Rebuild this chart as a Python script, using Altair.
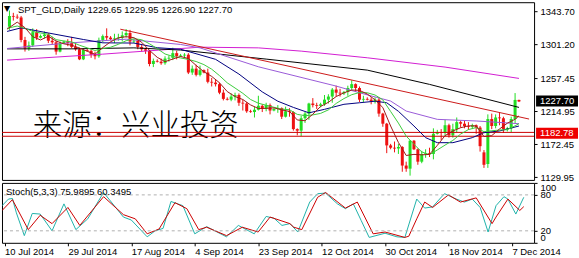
import json
import altair as alt
import pandas as pd

# ---------------- data ----------------
date_labels = ["10 Jul 2014", "29 Jul 2014", "17 Aug 2014", "4 Sep 2014", "23 Sep 2014",
               "12 Oct 2014", "30 Oct 2014", "18 Nov 2014", "7 Dec 2014"]
date_ticks = [0, 16, 32, 48, 64, 80, 96, 112, 128]
price_ticks = [1343.70, 1301.20, 1257.45, 1214.95, 1172.45, 1129.95]
stoch_ticks = [0, 20, 80, 100]

opens = [1324, 1338, 1337, 1336, 1307, 1296, 1300, 1317, 1310, 1312, 1314, 1306, 1304, 1292, 1303, 1305,
         1303, 1298, 1295, 1282, 1294, 1293, 1288, 1286, 1307, 1312, 1310, 1308, 1309, 1310, 1313, 1316,
         1305, 1306, 1298, 1295, 1293, 1276, 1280, 1279, 1277, 1283, 1284, 1290, 1286, 1287, 1288, 1265,
         1270, 1262, 1268, 1265, 1253, 1252, 1250, 1239, 1231, 1230, 1234, 1236, 1226, 1225, 1215, 1214,
         1217, 1222, 1218, 1223, 1216, 1218, 1219, 1208, 1215, 1214, 1192, 1190, 1206, 1212, 1225, 1223,
         1222, 1224, 1230, 1234, 1243, 1239, 1238, 1240, 1245, 1250, 1245, 1230, 1231, 1230, 1228, 1230,
         1212, 1199, 1171, 1168, 1167, 1169, 1145, 1141, 1177, 1166, 1150, 1160, 1161, 1160, 1186, 1188,
         1187, 1197, 1184, 1192, 1201, 1199, 1196, 1195, 1197, 1194, 1162, 1147, 1205, 1196, 1207, 1206,
         1192, 1193, 1205, 1229.65]
highs = [1345, 1342, 1340, 1338, 1311, 1305, 1322, 1321, 1314, 1318, 1316, 1311, 1306, 1305, 1306, 1308,
         1311, 1302, 1297, 1296, 1296, 1295, 1292, 1310, 1314, 1322, 1312, 1315, 1315, 1318, 1321, 1320,
         1308, 1306, 1302, 1297, 1294, 1283, 1282, 1283, 1286, 1287, 1297, 1293, 1289, 1290, 1290, 1274,
         1275, 1274, 1269, 1270, 1258, 1256, 1252, 1243, 1233, 1238, 1239, 1238, 1230, 1227, 1217, 1221,
         1235, 1224, 1226, 1225, 1219, 1223, 1220, 1221, 1219, 1215, 1193, 1209, 1214, 1226, 1232, 1226,
         1226, 1236, 1237, 1245, 1248, 1244, 1241, 1248, 1255, 1251, 1247, 1235, 1233, 1233, 1233, 1233,
         1213, 1200, 1173, 1176, 1173, 1170, 1150, 1178, 1178, 1167, 1164, 1166, 1168, 1193, 1191, 1192,
         1204, 1199, 1199, 1207, 1203, 1203, 1201, 1199, 1198, 1196, 1165, 1211, 1212, 1211, 1214, 1208,
         1195, 1208, 1238.5, 1229.95]
lows = [1320, 1332, 1334, 1304, 1292, 1293, 1298, 1307, 1309, 1309, 1303, 1301, 1288, 1291, 1302, 1299,
        1296, 1293, 1281, 1281, 1292, 1284, 1282, 1284, 1304, 1307, 1307, 1303, 1306, 1305, 1310, 1300,
        1303, 1295, 1292, 1289, 1273, 1272, 1278, 1275, 1275, 1279, 1281, 1282, 1285, 1284, 1263, 1262,
        1260, 1260, 1264, 1251, 1247, 1247, 1237, 1229, 1229, 1228, 1229, 1222, 1216, 1213, 1213, 1207,
        1216, 1214, 1215, 1211, 1215, 1213, 1205, 1207, 1208, 1190, 1184, 1183, 1200, 1204, 1220, 1218,
        1220, 1222, 1225, 1226, 1234, 1234, 1236, 1235, 1242, 1240, 1227, 1227, 1229, 1224, 1225, 1208,
        1195, 1161, 1166, 1162, 1160, 1137, 1137, 1132, 1165, 1146, 1148, 1155, 1156, 1153, 1185, 1178,
        1183, 1181, 1181, 1188, 1194, 1193, 1191, 1192, 1186, 1163, 1142, 1142, 1192, 1193, 1197, 1187,
        1189, 1188, 1199, 1226.9]
closes = [1338, 1337, 1336, 1307, 1296, 1300, 1317, 1310, 1312, 1314, 1306, 1304, 1292, 1303, 1305, 1303,
          1298, 1295, 1282, 1294, 1293, 1288, 1286, 1307, 1312, 1310, 1308, 1309, 1310, 1313, 1316, 1305,
          1306, 1298, 1295, 1293, 1276, 1280, 1279, 1277, 1283, 1284, 1290, 1286, 1287, 1288, 1265, 1270,
          1262, 1268, 1265, 1253, 1252, 1250, 1239, 1231, 1230, 1234, 1236, 1226, 1225, 1215, 1214, 1217,
          1222, 1218, 1223, 1216, 1218, 1219, 1208, 1215, 1214, 1192, 1190, 1206, 1212, 1225, 1223, 1222,
          1224, 1230, 1234, 1243, 1239, 1238, 1240, 1245, 1250, 1245, 1230, 1231, 1230, 1228, 1230, 1212,
          1199, 1171, 1168, 1167, 1169, 1145, 1141, 1177, 1166, 1150, 1160, 1161, 1160, 1186, 1188, 1187,
          1197, 1184, 1192, 1201, 1199, 1196, 1195, 1197, 1194, 1170, 1146, 1205, 1196, 1207, 1206, 1192,
          1193, 1205, 1229.65, 1227.70]

# moving-average lines, sampled (bar index, price)
ma5_i = [-0.6, 2, 4, 6, 8, 10, 12, 14, 16, 18, 20, 22, 24, 26, 28, 30, 32, 34, 36, 38, 40, 42, 44, 46, 48,
         50, 52, 54, 56, 58, 60, 62, 64, 66, 68, 70, 72, 74, 76, 78, 80, 82, 84, 86, 88, 90, 92, 94, 96,
         98, 100, 102, 104, 106, 108, 110, 112, 114, 116, 118, 120, 122, 124, 126, 128, 130, 131]
ma5_v = [1321, 1330, 1322.8, 1311.2, 1307, 1311.8, 1305.6, 1302, 1300.2, 1296.6, 1292.4, 1288.6, 1297.2,
         1304.6, 1309.8, 1311.2, 1310, 1304, 1293.6, 1284.6, 1279, 1282.4, 1285.8, 1283, 1274.2, 1266, 1260,
         1251.8, 1240.4, 1234, 1230.2, 1223.2, 1218.6, 1218.8, 1219.4, 1216.8, 1214.8, 1203.8, 1202.8,
         1211.2, 1221.2, 1226.6, 1234, 1238.8, 1242.4, 1242, 1237.2, 1229.8, 1219.8, 1196, 1174.8, 1158,
         1159.4, 1158.8, 1159.4, 1171, 1183.6, 1189.6, 1193.8, 1196.2, 1196.2, 1182.4, 1183.6, 1192.2,
         1199.6, 1204.7, 1209.1]
ma10_i = [-0.6, 2, 4, 6, 8, 10, 12, 14, 16, 18, 20, 22, 24, 26, 28, 30, 32, 34, 36, 38, 40, 42, 44, 46,
          48, 50, 52, 54, 56, 58, 60, 62, 64, 66, 68, 70, 72, 74, 76, 78, 80, 82, 84, 86, 88, 90, 92, 94,
          96, 98, 100, 102, 104, 106, 108, 110, 112, 114, 116, 118, 120, 122, 124, 126, 128, 130, 131]
ma10_v = [1322, 1325, 1322, 1318, 1316, 1314.4, 1307.4, 1305.7, 1304.5, 1300.2, 1296.8, 1293.5, 1295.9,
          1297.6, 1301.4, 1306, 1308.6, 1307.3, 1302.1, 1295.8, 1288.9, 1285.8, 1283.8, 1281.9, 1279.2,
          1275.2, 1269.3, 1261, 1251.7, 1245, 1238.2, 1230.2, 1225.4, 1222.8, 1220.2, 1217.8, 1217, 1211,
          1209.3, 1210.3, 1212.3, 1216.8, 1225.1, 1231.4, 1236.4, 1239.2, 1238.9, 1236, 1229.7, 1214.8,
          1199.8, 1183, 1172.4, 1162.6, 1159, 1165.1, 1171.4, 1177.4, 1185.6, 1191.4, 1194, 1188.7,
          1189.9, 1190.8, 1191.3, 1196.3, 1199]
navy_i = [-0.6, 3, 10, 19, 24, 32, 38, 44, 53, 59, 65, 69, 73, 77, 81, 86, 90, 94, 97, 100, 104, 107,
          110, 114, 119, 122, 126, 131]
navy_v = [1318, 1322.6, 1316, 1307.6, 1303.3, 1303, 1297, 1295, 1282, 1263, 1240, 1228, 1220, 1213,
          1217.5, 1224, 1226, 1228, 1226, 1215, 1196, 1181, 1174.5, 1174.5, 1181, 1187.4, 1189.6, 1196]
purple_i = [-0.6, 15, 30, 44, 49, 64, 84, 90, 98, 102, 110, 120, 131]
purple_v = [1296, 1303, 1308, 1301.2, 1296.8, 1272.4, 1247.5, 1238.9, 1228.2, 1215.3, 1204.6, 1202.5, 1199]
black_i = [-0.6, 16, 32, 44, 66, 92, 108, 131]
black_v = [1295.5, 1295.5, 1296.8, 1294, 1282.3, 1268.1, 1249.7, 1220]
magenta_i = [-0.6, 24, 49, 64, 75, 92, 112, 131]
magenta_v = [1281, 1288.7, 1297.7, 1296.8, 1292.6, 1284, 1272, 1257.4]
trend_i = [28.5, 133.6]
trend_v = [1320.9, 1205]
hline_v = [1187.77, 1182.78]
last_price = 1227.70

# stochastic lines, sampled (bar index, value)
k_i = [-0.6, 1, 2, 3, 5, 7, 9, 12, 15, 18, 21, 25, 30, 32, 36, 38, 40, 42, 45, 48, 51, 56, 59, 63, 66,
       68, 70, 72, 74, 77, 79, 81, 84, 86, 88, 90, 92, 96, 99, 101, 104, 106, 108, 111, 114, 116, 118,
       120, 122, 124, 126, 127, 129, 131]
k_v = [62, 73, 74, 50, 12, 49, 48, 20, 65, 22, 40, 84, 43, 38, 10, 20, 24, 69, 62, 15, 27, 10, 29, 15,
       44, 41, 29, 32, 18, 68, 82, 83, 65, 57, 65, 37, 9, 16, 10, 9, 73, 58, 60, 82, 73, 68, 73, 59, 18,
       62, 77, 73, 48, 75.99]
d_i = [-0.6, 2, 6, 9, 12, 16, 19, 25, 30, 33, 36, 39, 43, 46, 49, 51, 56, 60, 64, 67, 72, 73, 75, 79, 81,
       86, 89, 93, 96, 101, 102, 104, 106, 108, 112, 115, 119, 123, 124, 127, 130, 131]
d_v = [54, 72, 22, 46, 32, 59, 29, 77, 47, 40, 15, 23, 67, 57, 22, 26, 12, 26, 18, 43, 32, 26, 22, 76, 84,
       58, 68, 15, 18, 9, 11, 40, 68, 59, 80, 68, 75, 32, 43, 73, 54, 60.35]

title_text = "SPT_GLD,Daily 1229.65 1229.95 1226.90 1227.70"
stoch_text = "Stoch(5,3,3) 75.9895 60.3495"
watermark = "来源：兴业投资"

# ---------------- styling ----------------
FONT = "Liberation Sans"
FS = 9.5
GREEN = "#22dd22"
RED = "#ee1111"

xscale = alt.Scale(domain=[-0.63, 133.6], nice=False, zero=False)
yscale = alt.Scale(domain=[1126.48, 1355.68], nice=False, zero=False)
sscale = alt.Scale(domain=[0, 100], nice=False, zero=False)

y_axis = alt.Axis(orient="right", values=price_ticks, format=".2f", title=None, grid=False,
                  domain=False, tickSize=3, labelPadding=3, labelOverlap=False)
s_axis = alt.Axis(orient="right", values=stoch_ticks, title=None, grid=False, domain=False,
                  tickSize=3, labelPadding=3, labelFlush=True, labelOverlap=False)
label_expr = json.dumps(date_labels) + "[round(datum.value/16)]"
x_axis = alt.Axis(values=date_ticks, labelExpr=label_expr, labelAlign="left", title=None,
                  grid=False, domain=False, tickSize=3, labelPadding=1, labelOverlap=False,
                  labelFlush=False)

X = alt.X("i:Q", scale=xscale, axis=None)


def Yp(field):
    return alt.Y(field, scale=yscale, axis=y_axis)


bars = pd.DataFrame({"i": list(range(len(opens))), "o": opens, "h": highs, "l": lows, "c": closes})
up = bars[bars["c"] >= bars["o"]]
dn = bars[bars["c"] < bars["o"]]

candle_layers = []
for df, col in [(up, GREEN), (dn, RED)]:
    candle_layers.append(alt.Chart(df).mark_rule(strokeWidth=1, color=col).encode(
        x=X, y=Yp("l:Q"), y2="h:Q"))
    candle_layers.append(alt.Chart(df).mark_bar(size=3, color=col).encode(
        x=X, y=Yp("o:Q"), y2="c:Q"))

series = [(magenta_i, magenta_v, "#d21ed2"), (black_i, black_v, "#000000"),
          (purple_i, purple_v, "#9a5ad8"), (trend_i, trend_v, "#cc1a1a"),
          (navy_i, navy_v, "#000080"), (ma10_i, ma10_v, "#3ccc3c"), (ma5_i, ma5_v, "#a01818")]
line_layers = []
for xs, vs, col in series:
    df = pd.DataFrame({"i": xs, "p": vs, "ord": list(range(len(xs)))})
    line_layers.append(alt.Chart(df).mark_line(strokeWidth=1, color=col, clip=True).encode(
        x=X, y=Yp("p:Q"), order="ord:Q"))

hl = alt.Chart(pd.DataFrame({"p": hline_v})).mark_rule(color="#cc0000", strokeWidth=1).encode(
    y=Yp("p:Q"))

one = pd.DataFrame({"a": [0]})
wm = alt.Chart(one).mark_text(font="Noto Sans CJK SC", fontSize=29.5, fontWeight=300, color="black",
                              align="center", baseline="middle").encode(
    x=alt.value(134), y=alt.value(124), text=alt.value(watermark))
ttl = alt.Chart(one).mark_text(font=FONT, fontSize=FS, color="black", align="left",
                               baseline="middle").encode(
    x=alt.value(16), y=alt.value(7.3), text=alt.value(title_text))
tri = alt.Chart(one).mark_text(font="DejaVu Sans", fontSize=8, color="black", align="center",
                               baseline="middle").encode(
    x=alt.value(5), y=alt.value(7), text=alt.value("▼"))

red_box = pd.DataFrame({"p": [hline_v[1]], "lab": [f"{hline_v[1]:.2f}"]})
last_box = pd.DataFrame({"p": [last_price], "lab": [f"{last_price:.2f}"]})
box_layers = []
for df, col, off in [(red_box, "#ee0000", -2.5), (last_box, "#000000", 0)]:
    box_layers.append(alt.Chart(df).mark_rect(yOffset=-6 + off, y2Offset=5 + off, color=col).encode(
        y=Yp("p:Q"), y2="p:Q", x=alt.value(535), x2=alt.value(577)))
    box_layers.append(alt.Chart(df).mark_text(font=FONT, fontSize=FS, color="white", align="left",
                                              baseline="middle", dy=-0.5 + off).encode(
        y=Yp("p:Q"), x=alt.value(539), text="lab:N"))

main = alt.layer(*candle_layers, wm, hl, *line_layers, ttl, tri, *box_layers).properties(
    width=533, height=178)

# ---------------- stochastic panel ----------------
XS = alt.X("i:Q", scale=xscale, axis=x_axis)


def Ys(field):
    return alt.Y(field, scale=sscale, axis=s_axis)


st_layers = []
for xs, vs, col in [(k_i, k_v, "#20b2aa"), (d_i, d_v, "#cc0000")]:
    df = pd.DataFrame({"i": xs, "v": vs, "ord": list(range(len(xs)))})
    st_layers.append(alt.Chart(df).mark_line(strokeWidth=1, color=col, clip=True).encode(
        x=XS, y=Ys("v:Q"), order="ord:Q"))

levels = alt.Chart(pd.DataFrame({"v": [20, 80]})).mark_rule(
    color="#b0b0b0", strokeDash=[3, 3], strokeWidth=1).encode(y=Ys("v:Q"))
st_lab = alt.Chart(one).mark_text(font=FONT, fontSize=FS, color="black", align="left",
                                  baseline="middle").encode(
    x=alt.value(4), y=alt.value(8.7), text=alt.value(stoch_text))

stoch = alt.layer(*st_layers, levels, st_lab).properties(width=533, height=60)

chart = alt.vconcat(main, stoch, spacing=3, bounds="flush").properties(
    padding={"left": 1, "top": 1, "right": 0, "bottom": 0}, background="white"
).configure_view(stroke="black", strokeWidth=1).configure_axis(
    labelFont=FONT, labelFontSize=FS, labelColor="black", tickColor="black"
)

chart.save("out.html", embed_options={"renderer": "svg", "actions": False})
